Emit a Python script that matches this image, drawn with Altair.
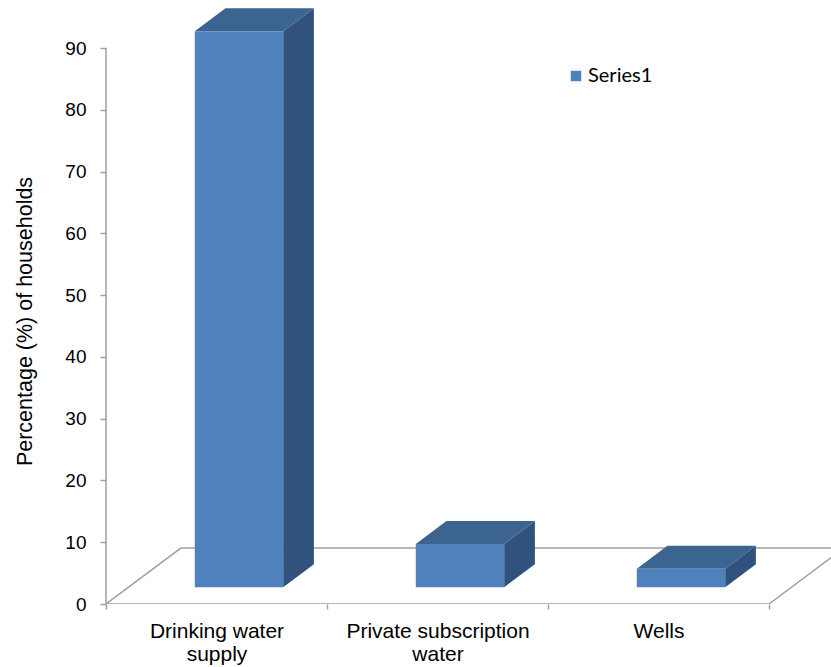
import altair as alt
import pandas as pd

# ---- data ----
categories = ["Drinking water supply", "Private subscription water", "Wells"]
label_lines = [["Drinking water", "supply"], ["Private subscription", "water"], ["Wells"]]
values = [90, 7, 3]
series_name = "Series1"
y_ticks = [0, 10, 20, 30, 40, 50, 60, 70, 80, 90]

# ---- styling / projection constants ----
FRONT = "#4F81BD"
TOP = "#3C6491"
SIDE = "#31527C"
GRID = "#A0A0A0"
W, H = 725, 600
PX_PER_UNIT = 556 / 90.0          # vertical pixels per percent
BAND_PX = 221.0                    # horizontal pixels per category
X_MAX = W / BAND_PX
Y_MAX = H / PX_PER_UNIT
BAR_W = 0.4                        # bar width as fraction of band
FLOOR_DX, FLOOR_DY = 0.339, 9.06   # floor depth in x-units / y-units
F0, F1 = 0.30, 0.71                # bar depth range as fraction of floor depth
n = len(categories)

# ---- derived geometry tables ----
front_rows, top_rows, side_rows = [], [], []
for i, (c, v) in enumerate(zip(categories, values)):
    x0 = i + 0.5 - BAR_W / 2 + F0 * FLOOR_DX
    x1 = x0 + BAR_W
    yb = F0 * FLOOR_DY
    yt = yb + v
    ddx = (F1 - F0) * FLOOR_DX
    ddy = (F1 - F0) * FLOOR_DY
    front_rows.append({"cat": c, "series": series_name, "x": x0, "x2": x1, "y": yb, "y2": yt})
    top_rows += [{"cat": c, "y": yt, "x": x0, "x2": x1},
                 {"cat": c, "y": yt + ddy, "x": x0 + ddx, "x2": x1 + ddx}]
    side_rows += [{"cat": c, "x": x1, "y": yb, "y2": yt},
                  {"cat": c, "x": x1 + ddx, "y": yb + ddy, "y2": yt + ddy}]

floor_pts = [(0, 0), (n, 0), (n + FLOOR_DX, FLOOR_DY), (FLOOR_DX, FLOOR_DY), (0, 0)]
floor_df = pd.DataFrame([{"x": a, "y": b, "o": k} for k, (a, b) in enumerate(floor_pts)])
front_df = pd.DataFrame(front_rows)
top_df = pd.DataFrame(top_rows)
side_df = pd.DataFrame(side_rows)

xs = alt.Scale(domain=[0, X_MAX], nice=False, zero=False)
ys = alt.Scale(domain=[0, Y_MAX], nice=False, zero=False)

# label expression for category axis
parts = []
for i, lines in enumerate(label_lines):
    arr = "[" + ",".join("'" + s + "'" for s in lines) + "]"
    parts.append(f"datum.value == {i + 0.5} ? {arr}")
label_expr = " : ".join(parts) + " : ''"
x_axis_vals = sorted([i + 0.5 for i in range(n)] + [float(i) for i in range(n + 1)])

floor = alt.Chart(floor_df).mark_line(color=GRID, strokeWidth=1.5, clip=True).encode(
    x=alt.X("x:Q", scale=xs, axis=alt.Axis(
        values=x_axis_vals, labelExpr=label_expr, title=None, domain=False, grid=False,
        tickSize=5, tickColor=GRID, tickWidth=1.5,
        tickOpacity={"condition": {"test": "datum.value % 1 == 0", "value": 1}, "value": 0},
        labelFont="Liberation Sans", labelFontSize=21, labelColor="#000000",
        labelLineHeight=23, labelPadding=11, labelAngle=0, labelAlign="center",
        labelOverlap=False, labelFlush=False, labelLimit=1000)),
    y=alt.Y("y:Q", scale=ys, axis=alt.Axis(
        values=y_ticks, title="Percentage (%) of households", domain=False, grid=False,
        tickSize=6, tickColor=GRID, tickWidth=1.5,
        labelFont="Liberation Sans", labelFontSize=19, labelColor="#000000", labelPadding=14,
        titleFont="Liberation Sans", titleFontSize=21.5, titleFontWeight="normal",
        titleColor="#000000", titleX=-81, titleY=317, titleAngle=270,
        titleAlign="center", titleBaseline="middle", titleLimit=1000)),
    order="o:Q",
)

yaxis_line = alt.Chart(pd.DataFrame({"a": [y_ticks[0]], "b": [y_ticks[-1]]})).mark_rule(
    color=GRID, strokeWidth=1.5).encode(
    x=alt.value(0),
    y=alt.Y("a:Q", scale=ys),
    y2="b:Q",
)

front = alt.Chart(front_df).mark_rect().encode(
    x=alt.X("x:Q", scale=xs),
    x2="x2:Q",
    y=alt.Y("y:Q", scale=ys),
    y2="y2:Q",
    color=alt.Color("series:N", scale=alt.Scale(range=[FRONT]), legend=alt.Legend(
        title=None, orient="none", legendX=460, legendY=62, symbolType="square",
        symbolSize=110, symbolStrokeWidth=0, labelFont="Lato", labelFontSize=20,
        labelOffset=2, labelColor="#000000", padding=0)),
)

top = alt.Chart(top_df).mark_area(orient="horizontal", color=TOP).encode(
    y=alt.Y("y:Q", scale=ys),
    x=alt.X("x:Q", scale=xs),
    x2="x2:Q",
    detail="cat:N",
)

side = alt.Chart(side_df).mark_area(orient="vertical", color=SIDE).encode(
    x=alt.X("x:Q", scale=xs),
    y=alt.Y("y:Q", scale=ys),
    y2="y2:Q",
    detail="cat:N",
)

chart = alt.layer(floor, yaxis_line, side, top, front).properties(
    width=W, height=H,
    background="white",
    autosize=alt.AutoSizeParams(type="none"),
    padding={"left": 106, "top": 4, "right": 0, "bottom": 63},
).configure_view(strokeWidth=0, stroke="transparent").configure_axis(
    grid=False, domain=False
)

chart.save("out.html", embed_options={"renderer": "svg", "actions": False})
